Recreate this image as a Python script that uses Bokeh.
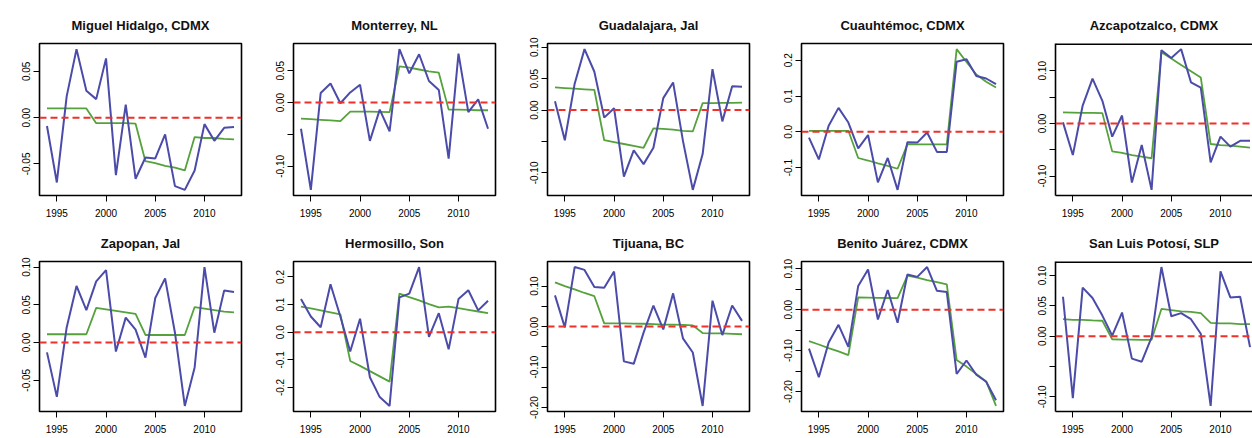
from bokeh.plotting import figure
from bokeh.layouts import column, row
from bokeh.models import FixedTicker, Range1d, Span
from bokeh.embed import file_html
from bokeh.resources import INLINE

years = list(range(1994, 2014))
x_ticks = [1995, 2000, 2005, 2010]

titles = ["Miguel Hidalgo, CDMX", "Monterrey, NL", "Guadalajara, Jal", "Cuauhtémoc, CDMX",
          "Azcapotzalco, CDMX", "Zapopan, Jal", "Hermosillo, Son", "Tijuana, BC",
          "Benito Juárez, CDMX", "San Luis Potosí, SLP"]

# observed series (blue)
obs_miguel_hidalgo = [-0.009, -0.070, 0.023, 0.074, 0.029, 0.020, 0.064, -0.062, 0.014, -0.066,
                      -0.043, -0.044, -0.018, -0.074, -0.078, -0.057, -0.007, -0.025, -0.011, -0.010]
obs_monterrey = [-0.041, -0.137, 0.015, 0.030, -0.001, 0.016, 0.028, -0.060, -0.011, -0.045,
                 0.084, 0.046, 0.076, 0.034, 0.020, -0.088, 0.077, -0.015, 0.005, -0.041]
obs_guadalajara = [0.014, -0.048, 0.042, 0.097, 0.061, -0.012, 0.003, -0.106, -0.064, -0.086,
                   -0.060, 0.019, 0.044, -0.049, -0.127, -0.070, 0.065, -0.018, 0.038, 0.037]
obs_cuauhtemoc = [-0.016, -0.077, 0.017, 0.067, 0.026, -0.046, -0.009, -0.141, -0.073, -0.162,
                  -0.029, -0.030, -0.002, -0.056, -0.056, 0.196, 0.203, 0.156, 0.149, 0.133]
obs_azcapotzalco = [0.002, -0.060, 0.034, 0.085, 0.043, -0.025, 0.015, -0.112, -0.041, -0.126,
                    0.139, 0.124, 0.141, 0.078, 0.068, -0.074, -0.025, -0.044, -0.033, -0.033]
obs_zapopan = [-0.013, -0.072, 0.020, 0.075, 0.043, 0.081, 0.096, -0.012, 0.033, 0.017,
               -0.020, 0.059, 0.085, 0.013, -0.084, -0.033, 0.100, 0.013, 0.069, 0.067]
obs_hermosillo = [0.120, 0.057, 0.018, 0.174, 0.057, -0.070, 0.049, -0.163, -0.235, -0.267,
                  0.126, 0.140, 0.236, -0.017, 0.069, -0.062, 0.120, 0.152, 0.079, 0.114]
obs_tijuana = [0.077, -0.002, 0.147, 0.140, 0.098, 0.096, 0.136, -0.086, -0.092, -0.015,
               0.052, -0.007, 0.082, -0.029, -0.064, -0.196, 0.064, -0.021, 0.052, 0.014]
obs_benito_juarez = [-0.095, -0.165, -0.080, -0.037, -0.091, 0.058, 0.098, -0.024, 0.048, -0.032,
                     0.086, 0.080, 0.104, 0.046, 0.043, -0.157, -0.124, -0.159, -0.176, -0.221]
obs_san_luis_potosi = [0.065, -0.102, 0.080, 0.063, 0.034, 0.001, 0.039, -0.037, -0.042, -0.002,
                       0.114, 0.033, 0.038, 0.028, 0.004, -0.115, 0.107, 0.064, 0.065, -0.018]

# fitted series (green)
fit_miguel_hidalgo = [0.010, 0.010, 0.010, 0.010, 0.010, -0.006, -0.006, -0.006, -0.006, -0.0065,
                      -0.047, -0.049, -0.052, -0.054, -0.057, -0.021, -0.022, -0.022, -0.023, -0.0235]
fit_monterrey = [-0.025, -0.026, -0.027, -0.028, -0.029, -0.014, -0.014, -0.014, -0.0145, -0.015,
                 0.057, 0.055, 0.052, 0.049, 0.047, -0.011, -0.011, -0.0115, -0.012, -0.012]
fit_guadalajara = [0.036, 0.035, 0.034, 0.033, 0.032, -0.048, -0.051, -0.054, -0.057, -0.060,
                   -0.029, -0.030, -0.031, -0.033, -0.034, 0.011, 0.011, 0.0115, 0.0115, 0.012]
fit_cuauhtemoc = [0.003, 0.003, 0.003, 0.003, 0.003, -0.073, -0.080, -0.088, -0.095, -0.103,
                  -0.035, -0.035, -0.035, -0.035, -0.035, 0.231, 0.195, 0.160, 0.140, 0.124]
fit_azcapotzalco = [0.021, 0.0205, 0.020, 0.020, 0.0196, -0.053, -0.056, -0.060, -0.063, -0.066,
                    0.135, 0.123, 0.111, 0.099, 0.087, -0.039, -0.041, -0.042, -0.044, -0.046]
fit_zapopan = [0.011, 0.011, 0.011, 0.011, 0.011, 0.046, 0.044, 0.042, 0.040, 0.038,
               0.010, 0.010, 0.010, 0.010, 0.010, 0.047, 0.045, 0.043, 0.041, 0.040]
fit_hermosillo = [0.093, 0.086, 0.079, 0.072, 0.065, -0.104, -0.122, -0.141, -0.160, -0.179,
                  0.140, 0.127, 0.115, 0.102, 0.090, 0.093, 0.087, 0.081, 0.075, 0.069]
fit_tijuana = [0.109, 0.100, 0.092, 0.083, 0.075, 0.008, 0.008, 0.008, 0.0075, 0.007,
               0.006, 0.005, 0.005, 0.004, 0.003, -0.016, -0.017, -0.017, -0.018, -0.019]
fit_benito_juarez = [-0.077, -0.085, -0.094, -0.102, -0.111, 0.030, 0.0295, 0.029, 0.0285, 0.028,
                     0.083, 0.078, 0.072, 0.067, 0.062, -0.123, -0.139, -0.157, -0.175, -0.235]
fit_san_luis_potosi = [0.028, 0.027, 0.027, 0.026, 0.0255, -0.005, -0.0055, -0.0055, -0.006, -0.006,
                       0.045, 0.043, 0.041, 0.040, 0.038, 0.022, 0.021, 0.021, 0.020, 0.020]

# y ticks and their labels ("" = tick without label)
yt_miguel_hidalgo = [-0.05, 0.0, 0.05]
yl_miguel_hidalgo = ["-0.05", "0.00", "0.05"]
yt_monterrey = [-0.10, -0.05, 0.0, 0.05]
yl_monterrey = ["-0.10", "", "0.00", "0.05"]
yt_guadalajara = [-0.10, -0.05, 0.0, 0.05, 0.10]
yl_guadalajara = ["-0.10", "", "0.00", "0.05", "0.10"]
yt_cuauhtemoc = [-0.1, 0.0, 0.1, 0.2]
yl_cuauhtemoc = ["-0.1", "0.0", "0.1", "0.2"]
yt_azcapotzalco = [-0.10, -0.05, 0.0, 0.05, 0.10]
yl_azcapotzalco = ["-0.10", "", "0.00", "", "0.10"]
yt_zapopan = [-0.05, 0.0, 0.05, 0.10]
yl_zapopan = ["-0.05", "0.00", "0.05", "0.10"]
yt_hermosillo = [-0.2, -0.1, 0.0, 0.1, 0.2]
yl_hermosillo = ["-0.2", "-0.1", "0.0", "0.1", "0.2"]
yt_tijuana = [-0.20, -0.15, -0.10, -0.05, 0.0, 0.05, 0.10]
yl_tijuana = ["-0.20", "", "-0.10", "", "0.00", "", "0.10"]
yt_benito_juarez = [-0.20, -0.15, -0.10, -0.05, 0.0, 0.05, 0.10]
yl_benito_juarez = ["-0.20", "", "-0.10", "", "0.00", "", "0.10"]
yt_san_luis_potosi = [-0.10, -0.05, 0.0, 0.05, 0.10]
yl_san_luis_potosi = ["-0.10", "", "0.00", "0.05", "0.10"]

obs_all = [obs_miguel_hidalgo, obs_monterrey, obs_guadalajara, obs_cuauhtemoc, obs_azcapotzalco,
           obs_zapopan, obs_hermosillo, obs_tijuana, obs_benito_juarez, obs_san_luis_potosi]
fit_all = [fit_miguel_hidalgo, fit_monterrey, fit_guadalajara, fit_cuauhtemoc, fit_azcapotzalco,
           fit_zapopan, fit_hermosillo, fit_tijuana, fit_benito_juarez, fit_san_luis_potosi]
yt_all = [yt_miguel_hidalgo, yt_monterrey, yt_guadalajara, yt_cuauhtemoc, yt_azcapotzalco,
          yt_zapopan, yt_hermosillo, yt_tijuana, yt_benito_juarez, yt_san_luis_potosi]
yl_all = [yl_miguel_hidalgo, yl_monterrey, yl_guadalajara, yl_cuauhtemoc, yl_azcapotzalco,
          yl_zapopan, yl_hermosillo, yl_tijuana, yl_benito_juarez, yl_san_luis_potosi]

FONT = "Liberation Sans"
BLUE = "#4B4BAA"
GREEN = "#55A23C"
RED = "#F0302A"


def style_axis(ax):
    ax.axis_line_color = None
    ax.major_tick_line_color = "black"
    ax.major_tick_line_width = 1
    ax.major_tick_out = 6
    ax.major_tick_in = 0
    ax.minor_tick_line_color = "black"
    ax.minor_tick_line_width = 1
    ax.minor_tick_out = 6
    ax.minor_tick_in = 0
    ax.major_label_text_font = FONT
    ax.major_label_text_font_size = "10px"
    ax.major_label_text_color = "#000000"


def make_panel(i, rowidx):
    obs, fit = obs_all[i], fit_all[i]
    last = (i % 5) == 4
    lo = min(min(obs), min(fit))
    hi = max(max(obs), max(fit))
    r = hi - lo
    ylo, yhi = lo - 0.04 * r, hi + 0.04 * r
    span_x = years[-1] - years[0]
    xlo, xhi = years[0] - 0.04 * span_x, years[-1] + 0.04 * span_x
    frame_w = 202
    width = 254
    right_border = width - 39 - frame_w
    if last:
        width = 236
        right_border = 0
        xhi = xlo + (xhi - xlo) * (width - 39) / frame_w
    if rowidx == 0:
        height, top = 220, 43
    else:
        height, top = 216, 41
    p = figure(width=width, height=height, x_range=Range1d(xlo, xhi), y_range=Range1d(ylo, yhi),
               output_backend="svg", toolbar_location=None, title=titles[i],
               min_border_left=39, min_border_right=right_border, min_border_top=top,
               min_border_bottom=25, background_fill_color="white", border_fill_color="white")
    p.title.align = "center"
    p.title.text_font = FONT
    p.title.text_font_size = "13px"
    p.title.text_font_style = "bold"
    p.title.text_color = "#111111"
    p.title.standoff = 22
    p.grid.visible = False

    labeled = [t for t, l in zip(yt_all[i], yl_all[i]) if l]
    unlabeled = [t for t, l in zip(yt_all[i], yl_all[i]) if not l]
    p.xaxis.ticker = FixedTicker(ticks=x_ticks, minor_ticks=[])
    p.yaxis.ticker = FixedTicker(ticks=labeled, minor_ticks=unlabeled)
    p.yaxis.major_label_overrides = {t: l for t, l in zip(yt_all[i], yl_all[i]) if l}
    p.yaxis.major_label_orientation = "vertical"
    p.xaxis.major_label_standoff = 7
    p.yaxis.major_label_standoff = 3
    style_axis(p.xaxis[0])
    style_axis(p.yaxis[0])
    if last:
        p.outline_line_color = None
        for ax in (p.xaxis[0], p.yaxis[0]):
            ax.axis_line_color = "black"
            ax.axis_line_width = 1.6
        p.add_layout(Span(location=yhi, dimension="width", line_color="black", line_width=3.2))
    else:
        p.outline_line_color = "black"
        p.outline_line_width = 1.6
        p.outline_line_alpha = 1.0
    p.line(years, fit, line_color=GREEN, line_width=1.8)
    p.line(years, obs, line_color=BLUE, line_width=2)
    p.add_layout(Span(location=0, dimension="width", line_color=RED, line_width=2,
                      line_dash="7 4"))
    return p


rows = []
for rowidx in range(2):
    rows.append(row(*[make_panel(rowidx * 5 + k, rowidx) for k in range(5)], spacing=0))
layout = column(*rows, spacing=0)

open("out.html", "w").write(file_html(layout, INLINE))
